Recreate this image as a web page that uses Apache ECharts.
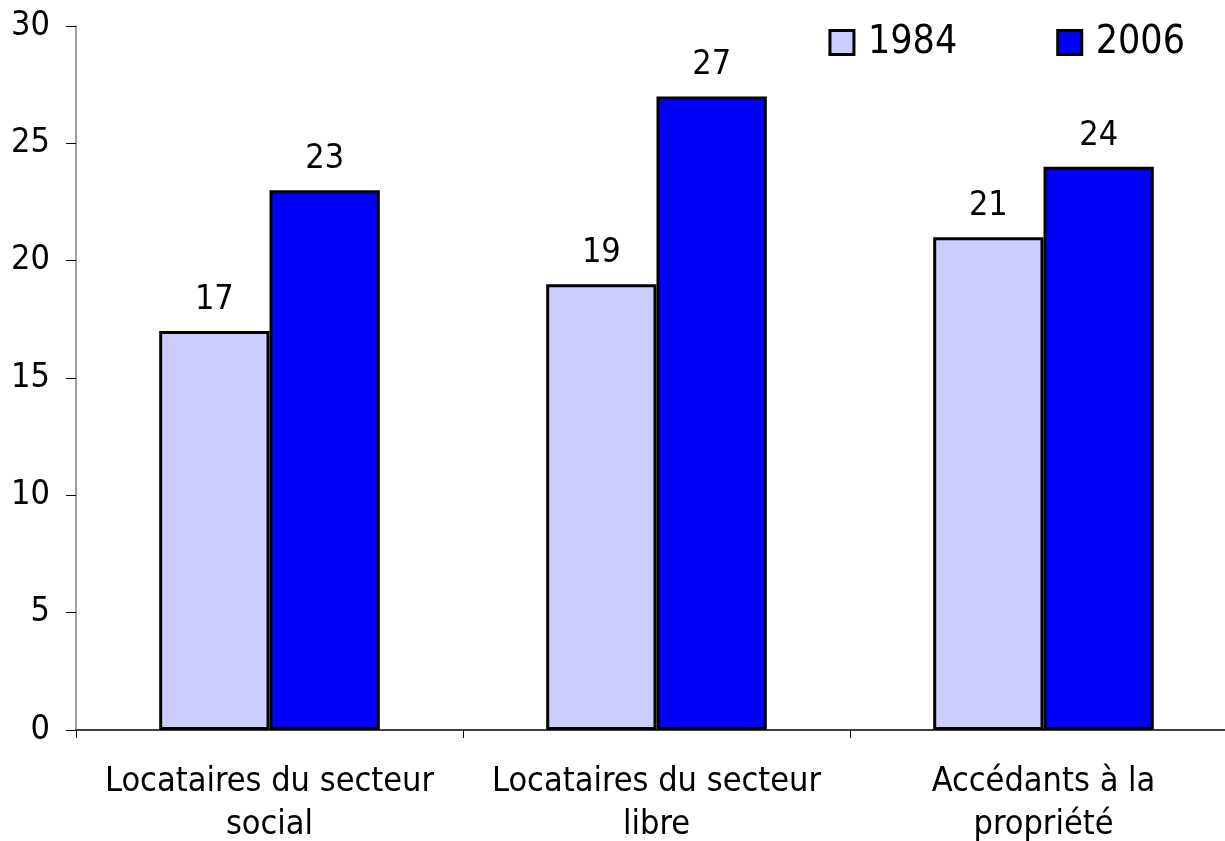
<!DOCTYPE html>
<html>
<head>
<meta charset="utf-8">
<script src="https://cdn.jsdelivr.net/npm/echarts@6/dist/echarts.min.js"></script>
<style>
  html, body { margin: 0; padding: 0; background: #fff; }
  #chart { width: 1225px; height: 841px; }
</style>
</head>
<body>
<div id="chart"></div>
<script>
// Categories and series values
const categories = ['Locataires du secteur\nsocial', 'Locataires du secteur\nlibre', 'Accédants à la\npropriété'];
const values1984 = [17, 19, 21];
const values2006 = [23, 27, 24];
const seriesNames = ['1984', '2006'];
const yTicks = { min: 0, max: 30, interval: 5 };

const FONT = 'DejaVu Sans Condensed, DejaVu Sans, sans-serif';

const chart = echarts.init(document.getElementById('chart'), null, { renderer: 'canvas' });

function barSeries(name, data, color) {
  return {
    name: name,
    type: 'bar',
    data: data,
    barGap: '0%',
    barCategoryGap: '43%',
    itemStyle: { color: color, borderColor: '#000', borderWidth: 3 },
    label: {
      show: true,
      position: 'top',
      distance: 14,
      color: '#000',
      fontFamily: FONT,
      fontSize: 34
    }
  };
}

chart.setOption({
  animation: false,
  backgroundColor: '#fff',
  grid: { left: 76, right: -12, top: 26, bottom: 111, containLabel: false, outerBoundsMode: 'none' },
  legend: {
    data: seriesNames,
    right: 35,
    top: 18,
    itemWidth: 24,
    itemHeight: 24,
    itemGap: 99,
    icon: 'rect',
    itemStyle: { borderColor: '#000', borderWidth: 3 },
    textStyle: { fontFamily: FONT, fontSize: 39, color: '#000', padding: [0, 0, 0, 9] }
  },
  xAxis: {
    type: 'category',
    data: categories,
    axisLine: { lineStyle: { color: '#000', width: 1.5 } },
    axisTick: { show: true, interval: 0, length: 8, lineStyle: { color: '#000', width: 1 } },
    axisLabel: {
      interval: 0,
      fontFamily: FONT,
      fontSize: 34,
      color: '#000',
      margin: 31,
      lineHeight: 43
    }
  },
  yAxis: {
    type: 'value',
    min: yTicks.min,
    max: yTicks.max,
    interval: yTicks.interval,
    splitLine: { show: false },
    axisLine: { show: true, lineStyle: { color: '#808080', width: 1.5 } },
    axisTick: { show: true, length: 10, lineStyle: { color: '#000', width: 1 } },
    axisLabel: { fontFamily: FONT, fontSize: 34, color: '#000', margin: 26 }
  },
  series: [
    barSeries(seriesNames[0], values1984, '#CCCCFF'),
    barSeries(seriesNames[1], values2006, '#0000FF')
  ]
});
</script>
</body>
</html>
